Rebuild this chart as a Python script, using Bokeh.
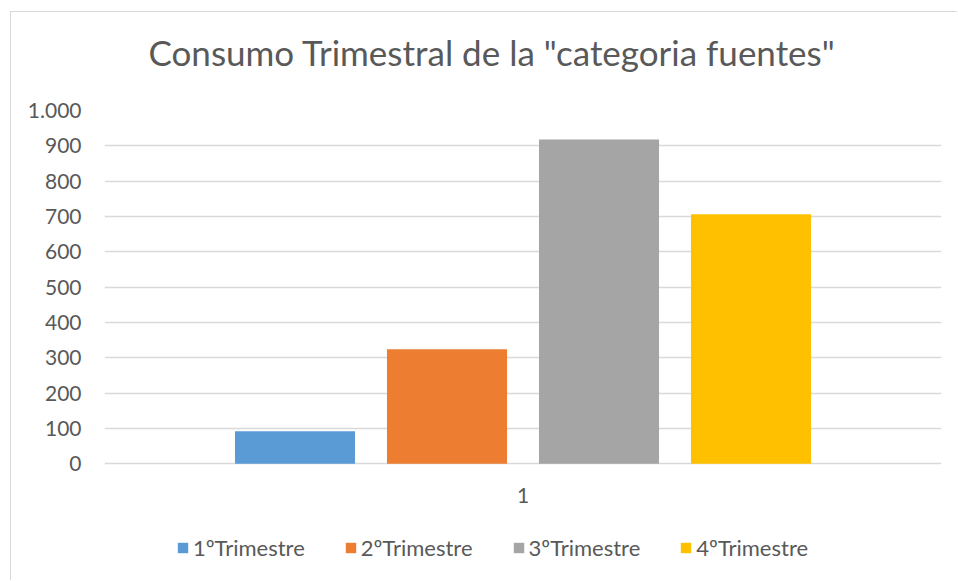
from bokeh.plotting import figure
from bokeh.models import (FactorRange, Range1d, FixedTicker, Legend, LegendItem,
                          ColumnDataSource, Title)
from bokeh.core.properties import value
from bokeh.transform import dodge
from bokeh.embed import file_html
from bokeh.resources import INLINE

# ---- data ----
categories = ["1"]
series = ["1ºTrimestre", "2ºTrimestre", "3ºTrimestre", "4ºTrimestre"]
values = [92, 324, 918, 706]
colors = ["#5B9BD5", "#ED7D31", "#A5A5A5", "#FFC000"]
y_ticks = [0, 100, 200, 300, 400, 500, 600, 700, 800, 900, 1000]
y_tick_labels = ["0", "100", "200", "300", "400", "500", "600", "700", "800", "900", "1.000"]
title_text = 'Consumo Trimestral de la "categoria fuentes"'

FONT = "Lato"
TXT = "#595959"
GRID = "#D9D9D9"

# layout geometry (pixels): the plot area reaches the bottom of the chart so the
# legend and the category label can sit inside it, below the value 0.
W, H = 947, 569
TOP, LEFT, RIGHT = 98, 93, 17
ZERO_PX = 451.3          # canvas y of value 0
PX_PER_UNIT = (ZERO_PX - TOP) / 1000.0
y_start = -(H - ZERO_PX) / PX_PER_UNIT

p = figure(width=W, height=H, output_backend="svg", toolbar_location=None,
           x_range=FactorRange(factors=categories, range_padding=0),
           y_range=Range1d(y_start, 1000),
           min_border_left=LEFT, min_border_right=RIGHT,
           min_border_top=TOP, min_border_bottom=0)
p.title = None

p.styles = {"margin-left": "10px", "margin-top": "11px",
            "border-left": "1px solid #D9D9D9", "border-top": "1px solid #D9D9D9"}

p.outline_line_color = None
p.background_fill_color = "white"
p.border_fill_color = "white"

step = 0.1816
bar_w = 0.1434
items = []
for i, (name, val, col) in enumerate(zip(series, values, colors)):
    src = ColumnDataSource(dict(x=categories, top=[val]))
    r = p.vbar(x=dodge("x", (i - 1.5) * step, range=p.x_range), top="top", bottom=0,
               width=bar_w, source=src, fill_color=col, line_color=None)
    items.append(LegendItem(label=name, renderers=[r]))

# category label under the zero line
p.text(x=categories, y=[0] * len(categories), text=categories,
       text_font=value(FONT), text_font_size="21px", text_color=TXT,
       text_align="center", text_baseline="middle", y_offset=32)

# title (with a spacer title between it and the plot area)
spacer = Title(text=" ", text_font_size="1px", standoff=35)
p.add_layout(spacer, "above")
main_title = Title(text=title_text, text_font=FONT, text_font_size="35px",
                   text_font_style="normal", text_color=TXT,
                   align="left", offset=44, standoff=0)
p.add_layout(main_title, "above")

# y axis
p.yaxis.ticker = FixedTicker(ticks=y_ticks)
p.yaxis.major_label_overrides = {t: l for t, l in zip(y_ticks, y_tick_labels)}
p.yaxis.axis_line_color = None
p.yaxis.major_tick_line_color = None
p.yaxis.minor_tick_line_color = None
p.yaxis.major_tick_in = 0
p.yaxis.major_tick_out = 0
p.yaxis.major_label_standoff = 23
p.yaxis.major_label_text_font = FONT
p.yaxis.major_label_text_font_size = "21px"
p.yaxis.major_label_text_color = TXT

# x axis: the zero grid line acts as the axis line
p.xaxis.visible = False

# grid
p.xgrid.grid_line_color = None
p.ygrid.grid_line_color = GRID
p.ygrid.grid_line_width = 1.3

# legend
legend = Legend(items=items, orientation="horizontal", location=(72, 20),
                padding=0, margin=0, spacing=39, label_standoff=4,
                glyph_width=13, glyph_height=13,
                border_line_color=None, background_fill_alpha=0,
                label_text_font=FONT, label_text_font_size="22px",
                label_text_color=TXT)
p.add_layout(legend, "center")

open("out.html", "w").write(file_html(p, INLINE))
